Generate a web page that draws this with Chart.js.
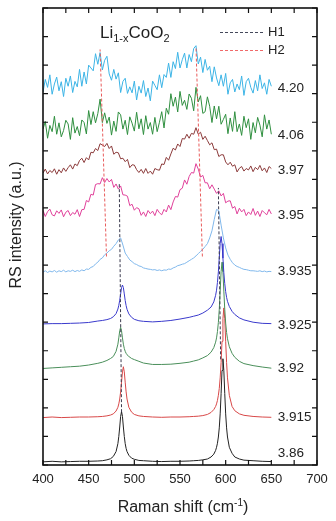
<!DOCTYPE html>
<html>
<head>
<meta charset="utf-8">
<script src="https://cdn.jsdelivr.net/npm/chart.js@4.4.1/dist/chart.umd.min.js"></script>
<style>
  html,body{margin:0;padding:0;background:#fff;}
  canvas{display:block;}
</style>
</head>
<body>
<canvas id="c" width="336" height="521"></canvas>
<script>
// ---- data (y in stacked intensity units, 0..16) ----
const NX = [400,402.5,405,407.5,410,412.5,415,417.5,420,422.5,425,427.5,430,432.5,435,437.5,440,442.5,445,447.5,450,452.5,455,457.5,460,462.5,465,467.5,470,472.5,475,477.5,480,482.5,485,487.5,490,492.5,495,497.5,500,502.5,505,507.5,510,512.5,515,517.5,520,522.5,525,527.5,530,532.5,535,537.5,540,542.5,545,547.5,550,552.5,555,557.5,560,562.5,565,567.5,570,572.5,575,577.5,580,582.5,585,587.5,590,592.5,595,597.5,600,602.5,605,607.5,610,612.5,615,617.5,620,622.5,625,627.5,630,632.5,635,637.5,640,642.5,645,647.5,650];

const s420 = [13.06,13.5,13.22,13.66,12.98,13.34,13.58,13.1,13.42,12.9,
13.54,13.26,13.62,13.04,13.43,13.24,13.85,13.26,13.76,13.34,
14.0,13.9,13.8,14.4,14.03,14.44,13.83,14.17,14.31,13.69,
13.47,13.85,13.51,13.73,13.04,13.43,13.54,13.01,13.24,13.03,
13.44,12.78,13.26,13.02,13.46,12.9,13.2,12.75,13.44,13.29,
13.14,13.66,13.21,13.67,13.57,14.07,13.57,14.12,13.88,14.45,
13.9,14.19,14.42,13.9,14.37,14.12,14.58,14.68,14.04,14.28,
13.74,14.2,13.82,13.96,13.42,13.94,13.55,13.28,13.66,13.26,
13.71,12.98,13.38,13.5,13.06,13.34,13.14,13.62,12.94,13.42,
13.54,13.22,13.02,13.46,13.1,13.66,13.18,13.38,12.98,13.5,
13.26];

const s406 = [11.76,12.03,11.44,11.89,11.67,12.21,11.58,11.98,11.49,11.71,
12.07,11.94,11.4,12.16,11.62,11.85,11.53,12.08,11.99,11.59,
12.41,11.92,12.37,11.98,12.3,12.81,11.99,12.33,11.96,12.18,
11.55,12.04,11.68,12.36,12.26,11.76,12.07,11.57,12.19,11.97,
11.69,12.35,11.77,12.12,11.57,12.23,11.76,11.99,11.58,12.17,
11.67,12.0,12.37,11.8,12.49,12.28,13.0,12.56,12.88,12.36,
13.08,12.59,12.77,12.45,12.99,12.84,12.4,13.22,12.71,12.93,
12.31,12.37,12.89,12.56,11.99,12.57,12.12,12.56,11.93,12.1,
12.28,11.6,12.15,11.68,12.37,11.67,11.94,11.54,12.21,11.81,
12.12,11.4,11.99,11.63,12.17,11.9,11.49,12.26,11.76,12.08,
11.58];

const s397 = [10.22,10.36,10.19,10.31,10.24,10.37,10.18,10.34,10.23,10.4,
10.28,10.41,10.51,10.36,10.54,10.48,10.66,10.74,10.59,10.76,
10.68,10.95,10.93,11.08,11.01,11.25,11.2,11.15,11.26,11.08,
11.17,10.88,10.95,10.93,10.72,10.74,10.62,10.7,10.41,10.51,
10.5,10.34,10.24,10.35,10.21,10.38,10.21,10.29,10.18,10.38,
10.34,10.32,10.54,10.52,10.77,10.67,10.89,11.09,11.03,11.24,
11.15,11.43,11.41,11.58,11.44,11.61,11.58,11.81,11.58,11.65,
11.4,11.51,11.36,11.21,11.28,11.04,11.06,10.8,10.86,10.86,
10.61,10.51,10.6,10.46,10.51,10.26,10.39,10.45,10.29,10.38,
10.33,10.47,10.27,10.42,10.34,10.49,10.3,10.4,10.24,10.45,
10.38];

const s395 = [8.91,8.7,8.87,8.96,8.76,8.72,8.9,8.81,8.93,8.69,
8.85,8.91,8.73,8.84,8.78,8.94,8.7,8.94,8.95,9.26,
9.21,9.48,9.45,9.82,9.85,9.84,10.06,9.89,10.03,9.91,
10.0,9.72,9.84,9.66,9.77,9.46,9.45,9.41,9.08,9.13,
8.92,9.01,8.97,8.74,8.86,8.7,8.91,8.8,8.89,8.73,
8.95,8.83,8.76,8.95,8.86,9.1,8.94,9.21,9.4,9.38,
9.64,9.69,9.98,9.83,10.1,10.24,10.22,10.55,10.36,10.08,
10.14,9.88,9.88,9.67,9.81,9.66,9.51,9.6,9.42,9.51,
9.18,9.24,9.25,8.99,9.05,8.79,8.99,8.86,8.95,8.73,
8.86,8.77,8.98,8.74,8.89,8.7,8.91,8.83,8.76,8.95,
8.79];

const s3935 = [6.75,6.8,6.74,6.79,6.76,6.81,6.75,6.8,6.77,6.82,
6.76,6.8,6.78,6.82,6.77,6.81,6.78,6.83,6.8,6.86,
6.85,6.92,6.95,7.04,7.1,7.2,7.25,7.36,7.42,7.5,
7.55,7.66,7.75,7.88,7.95,7.7,7.42,7.3,7.18,7.12,
7.05,7.02,6.97,6.95,6.9,6.88,6.86,6.85,6.83,6.84,
6.81,6.83,6.8,6.83,6.82,6.86,6.85,6.9,6.93,6.98,
7.0,7.03,7.05,7.1,7.15,7.2,7.25,7.32,7.4,7.48,
7.55,7.65,7.75,7.95,8.2,8.6,8.95,8.9,8.4,7.95,
7.6,7.35,7.2,7.08,7.0,6.95,6.92,6.88,6.85,6.84,
6.82,6.8,6.8,6.79,6.78,6.8,6.77,6.79,6.76,6.78,
6.77];

const SX = [400,410,420,430,440,450,460,465,470,474,
477,480,482,483,484,485,486,487,488,489,
490,491,492,494,497,500,505,510,520,530,
540,550,560,565,570,575,580,584,587,589,
590,591,592,593,594,595,596,597,598,599,
600,601,602,604,607,610,615,620,630,640,
650];

const s3925 = [4.94,4.95,4.95,4.96,4.97,4.99,5.04,5.06,5.09,5.13,
5.19,5.30,5.46,5.59,5.77,5.99,6.21,6.30,6.21,5.99,
5.76,5.58,5.45,5.29,5.17,5.10,5.05,5.03,5.01,5.03,
5.06,5.11,5.17,5.21,5.25,5.32,5.42,5.53,5.71,5.94,
6.12,6.39,6.76,7.26,7.76,8.00,7.75,7.24,6.73,6.35,
6.07,5.87,5.73,5.55,5.38,5.27,5.15,5.08,5.00,4.96,
4.95];

const s392 = [3.38,3.40,3.42,3.44,3.46,3.50,3.56,3.60,3.66,3.73,
3.80,3.98,4.23,4.45,4.70,4.82,4.70,4.45,4.23,4.08,
3.98,3.91,3.86,3.80,3.73,3.69,3.63,3.57,3.52,3.52,
3.53,3.56,3.60,3.64,3.68,3.75,3.83,3.95,4.11,4.30,
4.45,4.67,4.99,5.45,6.09,6.77,7.10,6.77,6.09,5.45,
4.97,4.64,4.42,4.14,3.91,3.77,3.63,3.55,3.48,3.43,
3.39];

const s3915 = [1.66,1.68,1.66,1.67,1.68,1.68,1.69,1.70,1.72,1.75,
1.79,1.89,2.02,2.14,2.31,2.56,2.90,3.26,3.44,3.26,
2.90,2.56,2.31,2.02,1.85,1.77,1.72,1.70,1.68,1.67,
1.68,1.68,1.69,1.70,1.71,1.73,1.77,1.84,1.94,2.05,
2.14,2.26,2.44,2.68,3.05,3.59,4.33,5.12,5.50,5.12,
4.33,3.59,3.05,2.44,2.05,1.90,1.79,1.74,1.70,1.68,
1.67];

const s386 = [0.11,0.13,0.11,0.12,0.13,0.13,0.14,0.15,0.18,0.22,
0.30,0.47,0.75,1.00,1.33,1.70,1.87,1.70,1.33,1.00,
0.75,0.58,0.47,0.34,0.24,0.20,0.16,0.15,0.13,0.12,
0.13,0.13,0.14,0.15,0.16,0.18,0.21,0.28,0.38,0.51,
0.62,0.76,0.98,1.30,1.79,2.50,3.31,3.72,3.31,2.50,
1.79,1.30,0.98,0.62,0.41,0.28,0.21,0.17,0.15,0.13,
0.12];

// guide lines (x, y pairs: bottom -> top)
const h1LeftX = [486, 483.5],  h1LeftY = [1.85, 9.9];
const h1RightX = [594.5, 592], h1RightY = [3.7, 9.7];
const h2LeftX = [469.5, 462.5], h2LeftY = [7.3, 14.55];
const h2RightX = [574.5, 567.5], h2RightY = [7.3, 14.65];

// curve labels (potential, V) and their vertical positions
const labelText = ["4.20","4.06","3.97","3.95","3.935","3.925","3.92","3.915","3.86"];
const labelY = [13.2, 11.55, 10.33, 8.75, 6.79, 4.9, 3.4, 1.68, 0.42];
const labelXVal = 657;

const xTickLabels = [400,450,500,550,600,650,700];

// ---- build ----
const FONT = "'Liberation Sans', Arial, Helvetica, sans-serif";
const pts = (xs, ys) => xs.map((x, i) => ({x: x, y: ys[i]}));
const spec = (xs, ys, color) => ({data: pts(xs, ys), borderColor: color, borderWidth: 1, pointRadius: 0, fill: false, tension: 0});
const guide = (xs, ys, color) => ({data: pts(xs, ys), borderColor: color, borderWidth: 1, borderDash: [3, 2], pointRadius: 0, fill: false});

const deco = {
  id: 'deco',
  afterDatasetsDraw(chart) {
    const {ctx, chartArea: a, scales: {x, y}} = chart;
    ctx.save();
    // frame
    ctx.strokeStyle = '#111';
    ctx.lineWidth = 1.6;
    ctx.strokeRect(a.left, a.top, a.right - a.left, a.bottom - a.top);
    // inward ticks
    ctx.lineWidth = 1.2;
    ctx.beginPath();
    for (let v = 400; v <= 700; v += 25) {
      const p = x.getPixelForValue(v);
      ctx.moveTo(p, a.bottom); ctx.lineTo(p, a.bottom - 5);
      ctx.moveTo(p, a.top); ctx.lineTo(p, a.top + 5);
    }
    for (let v = 0; v <= 16; v += 1) {
      const p = y.getPixelForValue(v);
      ctx.moveTo(a.left, p); ctx.lineTo(a.left + 5, p);
      ctx.moveTo(a.right, p); ctx.lineTo(a.right - 5, p);
    }
    ctx.stroke();

    ctx.fillStyle = '#222';
    // curve labels
    ctx.font = '13.5px ' + FONT;
    ctx.textAlign = 'left';
    ctx.textBaseline = 'middle';
    labelText.forEach((t, i) => {
      ctx.fillText(t, x.getPixelForValue(labelXVal), y.getPixelForValue(labelY[i]));
    });

    // compound title Li1-xCoO2
    let tx = 100, tb = 38;
    const parts = [["Li", 17, 0], ["1-x", 11, 4], ["CoO", 17, 0], ["2", 11, 4]];
    ctx.textBaseline = 'alphabetic';
    parts.forEach(([t, s, dy]) => {
      ctx.font = s + 'px ' + FONT;
      ctx.fillText(t, tx, tb + dy);
      tx += ctx.measureText(t).width;
    });

    // legend
    ctx.lineWidth = 1;
    ctx.setLineDash([3, 2]);
    ctx.strokeStyle = '#44485a';
    ctx.beginPath(); ctx.moveTo(220, 32.5); ctx.lineTo(263, 32.5); ctx.stroke();
    ctx.strokeStyle = '#f06a6a';
    ctx.beginPath(); ctx.moveTo(220, 50.5); ctx.lineTo(263, 50.5); ctx.stroke();
    ctx.setLineDash([]);
    ctx.font = '13px ' + FONT;
    ctx.textBaseline = 'middle';
    ctx.fillText('H1', 268, 32);
    ctx.fillText('H2', 268, 50);

    // y axis title
    ctx.save();
    ctx.translate(17, 225);
    ctx.rotate(-Math.PI / 2);
    ctx.font = '16px ' + FONT;
    ctx.textAlign = 'center';
    ctx.textBaseline = 'middle';
    ctx.fillText('RS intensity (a.u.)', 0, 0);
    ctx.restore();

    // x axis title with superscript
    const m1 = 'Raman shift (cm', sup = '-1', m2 = ')';
    ctx.font = '16px ' + FONT;
    const w1 = ctx.measureText(m1).width, w3 = ctx.measureText(m2).width;
    ctx.font = '10px ' + FONT;
    const w2 = ctx.measureText(sup).width;
    let sx = 183 - (w1 + w2 + w3) / 2;
    const base = 512;
    ctx.textAlign = 'left';
    ctx.textBaseline = 'alphabetic';
    ctx.font = '16px ' + FONT;
    ctx.fillText(m1, sx, base); sx += w1;
    ctx.font = '10px ' + FONT;
    ctx.fillText(sup, sx, base - 6); sx += w2;
    ctx.font = '16px ' + FONT;
    ctx.fillText(m2, sx, base);
    ctx.restore();
  }
};

new Chart(document.getElementById('c'), {
  type: 'line',
  data: {
    datasets: [
      guide(h1LeftX, h1LeftY, '#3a3a4e'),
      guide(h1RightX, h1RightY, '#3a3a4e'),
      guide(h2LeftX, h2LeftY, '#e85a5a'),
      guide(h2RightX, h2RightY, '#e85a5a'),
      spec(NX, s420, '#3cb4e6'),
      spec(NX, s406, '#2f8f3f'),
      spec(NX, s397, '#8b3a3a'),
      spec(NX, s395, '#e0409a'),
      spec(NX, s3935, '#80b8ec'),
      spec(SX, s3925, '#3a3acc'),
      spec(SX, s392, '#4a8f5a'),
      spec(SX, s3915, '#d84848'),
      spec(SX, s386, '#222222')
    ]
  },
  options: {
    responsive: false,
    animation: false,
    devicePixelRatio: 1,
    layout: {padding: {top: 8, right: 19, left: 0, bottom: 0}},
    plugins: {legend: {display: false}, tooltip: {enabled: false}, title: {display: false}},
    scales: {
      x: {
        type: 'linear', min: 400, max: 700,
        grid: {display: false, drawTicks: false},
        border: {display: false},
        ticks: {
          autoSkip: false, maxRotation: 0, color: '#222', padding: 7,
          font: {family: FONT, size: 13},
          callback: (v) => xTickLabels.includes(v) ? String(v) : null,
          stepSize: 50
        },
        afterFit(s) { s.height = 56; }
      },
      y: {
        type: 'linear', min: 0, max: 16,
        grid: {display: false, drawTicks: false},
        border: {display: false},
        ticks: {display: false},
        afterFit(s) { s.width = 43; }
      }
    }
  },
  plugins: [deco]
});
</script>
</body>
</html>
